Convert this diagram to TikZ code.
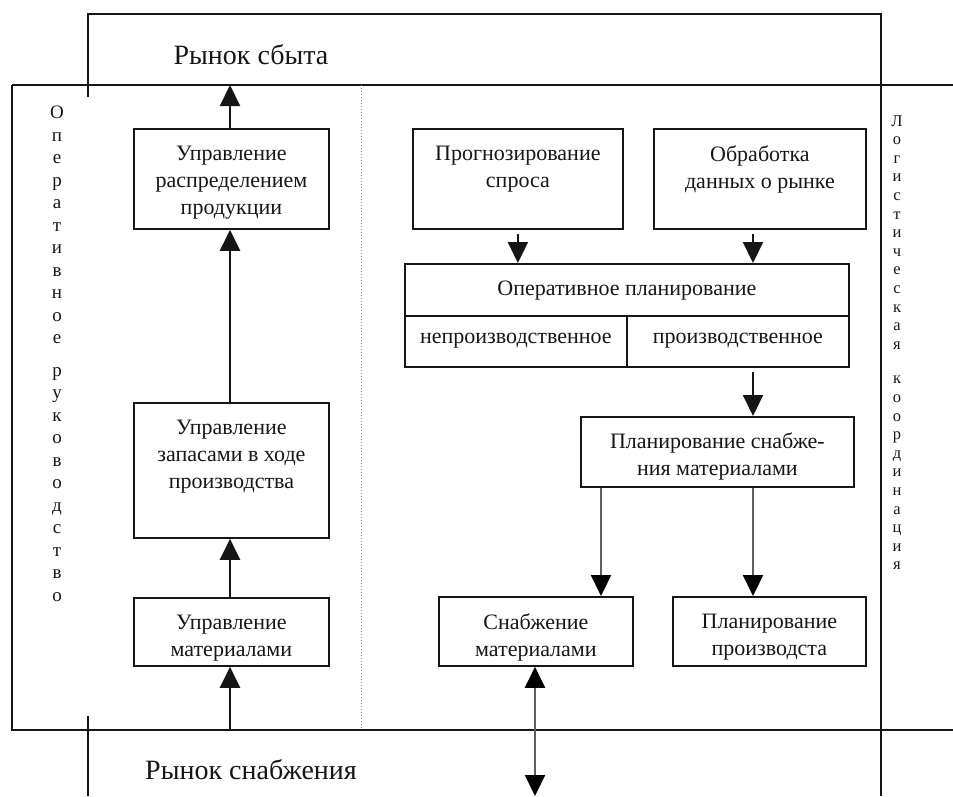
\documentclass[tikz,border=0pt]{standalone}
\usepackage{fontspec}
\setmainfont{Liberation Serif}
\usepackage{tikz}
\usetikzlibrary{arrows.meta,positioning}
\definecolor{framegray}{HTML}{161616}
\definecolor{linkgray}{HTML}{5E5E5E}
\definecolor{dotgray}{HTML}{8C8C8C}

\tikzset{
  frame/.style={draw=framegray, line width=1.8pt},
  blk/.style={draw=framegray, line width=1.8pt, inner sep=0pt, anchor=north west},
  blktext/.style={inner sep=0pt, align=center, text=framegray, font=\fontsize{22}{27}\selectfont},
  market/.style={inner sep=0pt, text=framegray, font=\fontsize{28}{32}\selectfont},
  uparr/.style={draw=framegray, line width=2.2pt, -{Triangle[width=20pt,length=21pt]}},
  downarr/.style={draw=framegray, line width=2.2pt, shorten <=4pt, -{Triangle[width=20pt,length=21pt]}},
  grayarr/.style={draw=linkgray, line width=2.2pt, -{Triangle[width=20pt,length=21pt,color=black]}},
  bothgray/.style={draw=linkgray, line width=2.2pt,
    {Triangle[width=20pt,length=21pt,color=black]}-{Triangle[width=20pt,length=21pt,color=black]}}
}

\begin{document}
\begin{tikzpicture}[x=1pt, y=-1pt]
\useasboundingbox (0,0) rectangle (953,796);

\draw[frame] (88,97) -- (88,14) -- (881,14) -- (881,796);
\draw[frame] (12,85) -- (953,85);
\draw[frame] (12,85) -- (12,730) -- (953,730);
\draw[frame] (88,716) -- (88,796);
\draw[draw=dotgray, line width=1pt, dotted] (361,85) -- (361,730);

\node[market] (sbytlbl) at (251,55) {Рынок сбыта};
\node[market] (snablbl) at (251,770) {Рынок снабжения};

\node[inner sep=0pt, anchor=north, align=center, text=framegray,
  font=\fontsize{19}{22.5}\selectfont] (opruk) at (57,106)
  {О\\п\\е\\р\\а\\т\\и\\в\\н\\о\\е\\[10pt]р\\у\\к\\о\\в\\о\\д\\с\\т\\в\\о};
\node[inner sep=0pt, anchor=north, align=center, text=framegray,
  font=\fontsize{16.5}{18.6}\selectfont] (logkoord) at (897,115)
  {Л\\о\\г\\и\\с\\т\\и\\ч\\е\\с\\к\\а\\я\\[16pt]к\\о\\о\\р\\д\\и\\н\\а\\ц\\и\\я};

\node[blk, minimum width=195, minimum height=100] (raspred) at (133,128) {};
\node[blktext, below=18pt of raspred.north] (raspred-t) {Управление\\распределением\\продукции};
\node[blk, minimum width=195, minimum height=135] (zapas) at (133,402) {};
\node[blktext, below=18pt of zapas.north] (zapas-t) {Управление\\запасами в ходе\\производства};
\node[blk, minimum width=195, minimum height=68] (mater) at (133,597) {};
\node[blktext, below=18pt of mater.north] (mater-t) {Управление\\материалами};

\node[blk, minimum width=210, minimum height=100] (prognoz) at (412,128) {};
\node[blktext, below=18pt of prognoz.north] (prognoz-t) {Прогнозирование\\спроса};
\node[blk, minimum width=212, minimum height=100] (obrab) at (653,128) {};
\node[blktext, below=18pt of obrab.north] (obrab-t) {Обработка\\данных о рынке};

\node[blk, minimum width=444, minimum height=52] (operplan) at (404,263) {};
\node[blktext, below=18pt of operplan.north] (operplan-t) {Оперативное планирование};
\node[blk, minimum width=222, minimum height=51] (neproizv) at (404,315) {};
\node[blktext, below=18pt of neproizv.north] (neproizv-t) {непроизводственное};
\node[blk, minimum width=222, minimum height=51] (proizv) at (626,315) {};
\node[blktext, below=18pt of proizv.north] (proizv-t) {производственное};

\node[blk, minimum width=273, minimum height=70] (plansnab) at (580,416) {};
\node[blktext, below=17pt of plansnab.north] (plansnab-t) {Планирование снабже-\\ния материалами};
\node[blk, minimum width=194, minimum height=69] (snabmat) at (438,596) {};
\node[blktext, below=18pt of snabmat.north] (snabmat-t) {Снабжение\\материалами};
\node[blk, minimum width=193, minimum height=69] (planproizv) at (672,596) {};
\node[blktext, below=18pt of planproizv.north] (planproizv-t) {Планирование\\производста};

\coordinate (sbyt) at (230,85);
\coordinate (snabin) at (230,730);
\coordinate (snabout) at (535,796);
\coordinate (rcol) at (753,0);
\coordinate (lcol) at (601,0);

\draw[uparr] (raspred.north -| sbyt) -- (sbyt);
\draw[uparr] (zapas.north -| sbyt) -- (raspred.south -| sbyt);
\draw[uparr] (mater.north -| sbyt) -- (zapas.south -| sbyt);
\draw[uparr] (snabin) -- (mater.south -| snabin);

\draw[downarr] (prognoz.south) -- (prognoz.south |- operplan.north);
\draw[downarr] (obrab.south -| rcol) -- (operplan.north -| rcol);
\draw[downarr] (proizv.south -| rcol) -- (plansnab.north -| rcol);
\draw[grayarr] (plansnab.south -| lcol) -- (snabmat.north -| lcol);
\draw[grayarr] (plansnab.south -| rcol) -- (planproizv.north -| rcol);
\draw[bothgray] (snabmat.south -| snabout) -- (snabout);
\end{tikzpicture}
\end{document}
